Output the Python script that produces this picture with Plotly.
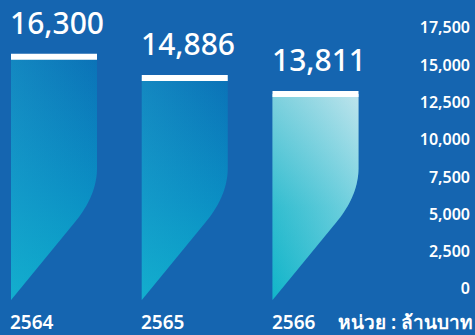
import plotly.graph_objects as go

# ---- data ----
years = ["2564", "2565", "2566"]
values = [16300, 14886, 13811]
tick_vals = [0, 2500, 5000, 7500, 10000, 12500, 15000, 17500]
tick_text = ["0", "2,500", "5,000", "7,500", "10,000", "12,500", "15,000", "17,500"]
unit_label = "หน่วย : ล้านบาท"

# ---- style ----
BG = "rgb(21,101,176)"
FONT = "Noto Sans, Open Sans, sans-serif"
W, H = 475, 335
ML, MR, MT, MB = 0, 2, 0, 35
PX_PER_X = 130.75
X0_PX = 54.0
PX_PER_Y = 0.01492
plot_w = W - ML - MR
plot_h = H - MT - MB
x_range = [-X0_PX / PX_PER_X, (plot_w - X0_PX) / PX_PER_X]
y_range = [0, plot_h / PX_PER_Y]
half_w = 43.0 / PX_PER_X

# bar cut-out shape (style constants, in px relative to bar bottom-left)
BAR_PX = 86.0
CUT_TOP = 132.0
CTRL = (86.0, 104.8)
CUT_END = (64.0, 78.0)

grads = [
    dict(v=[[0, "#0aa9ca"], [0.45, "#0a8dc3"], [1, "#0b72b7"]],
         h=[[0, "rgba(40,185,215,0.30)"], [1, "rgba(40,185,215,0.0)"]]),
    dict(v=[[0, "#0aa9ca"], [0.45, "#0a8dc3"], [1, "#0b72b7"]],
         h=[[0, "rgba(40,185,215,0.30)"], [1, "rgba(40,185,215,0.0)"]]),
    dict(v=[[0, "#10b5ca"], [0.45, "#3fc1d3"], [1, "#acdde7"]],
         h=[[0, "rgba(20,180,200,0.30)"], [1, "rgba(225,242,247,0.35)"]]),
]


def bar_polygon(i, v):
    left = i - half_w

    def to_data(X, Y):
        return left + X / PX_PER_X, Y / PX_PER_Y

    xs, ys = [], []
    pts = [(0, v * PX_PER_Y), (BAR_PX, v * PX_PER_Y), (BAR_PX, CUT_TOP)]
    p0 = (BAR_PX, CUT_TOP)
    for k in range(1, 21):
        t = k / 20
        bx = (1 - t) ** 2 * p0[0] + 2 * (1 - t) * t * CTRL[0] + t ** 2 * CUT_END[0]
        by = (1 - t) ** 2 * p0[1] + 2 * (1 - t) * t * CTRL[1] + t ** 2 * CUT_END[1]
        pts.append((bx, by))
    pts.append((0, 0))
    pts.append((0, v * PX_PER_Y))
    for X, Y in pts:
        dx, dy = to_data(X, Y)
        xs.append(dx)
        ys.append(dy)
    return xs, ys


fig = go.Figure()
for i, (yr, v) in enumerate(zip(years, values)):
    xs, ys = bar_polygon(i, v)
    g = grads[i]
    fig.add_trace(go.Scatter(
        x=xs, y=ys, fill="toself", mode="none", hoverinfo="skip", showlegend=False,
        fillgradient=dict(type="vertical", colorscale=g["v"], start=0, stop=v),
    ))
    fig.add_trace(go.Scatter(
        x=xs, y=ys, fill="toself", mode="none", hoverinfo="skip", showlegend=False,
        fillgradient=dict(type="horizontal", colorscale=g["h"],
                          start=i - half_w, stop=i + half_w),
    ))
    fig.add_trace(go.Scatter(
        x=[i - half_w, i + half_w], y=[v, v], mode="lines",
        line=dict(color="white", width=6), hoverinfo="skip", showlegend=False,
    ))
    fig.add_annotation(
        x=i - half_w, y=v, xref="x", yref="y", text=f"{v:,}", showarrow=False,
        xanchor="left", yanchor="bottom", yshift=12, xshift=-3,
        font=dict(family=FONT, size=30, color="white", weight=500),
    )
    fig.add_annotation(
        x=i - half_w, y=0, xref="x", yref="y", text=yr, showarrow=False,
        xanchor="left", yanchor="middle", yshift=-22, xshift=-3,
        font=dict(family=FONT, size=19, color="white", weight=600),
    )

fig.add_annotation(
    x=1, y=0, xref="paper", yref="paper", text=unit_label, showarrow=False,
    xanchor="right", yanchor="middle", yshift=-22, xshift=2,
    font=dict(family=FONT, size=19, color="white", weight=600),
)

fig.update_layout(
    width=W, height=H,
    margin=dict(l=ML, r=MR, t=MT, b=MB),
    paper_bgcolor=BG, plot_bgcolor=BG,
    showlegend=False,
    xaxis=dict(range=x_range, visible=False, fixedrange=True),
    yaxis=dict(
        range=y_range, side="right", tickvals=tick_vals, ticktext=tick_text,
        ticklabelposition="inside top", showgrid=False, zeroline=False,
        showline=False, ticks="",
        tickfont=dict(family=FONT, size=16, color="white", weight=600),
    ),
)

fig.write_html("out.html")
